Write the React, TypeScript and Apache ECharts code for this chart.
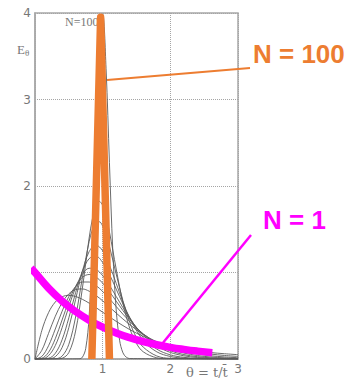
import React, { useEffect, useRef } from "react";
import * as echarts from "echarts";

// Tanks-in-series E(θ) curves
const thetaA = [0, 0.1, 0.2, 0.3, 0.4, 0.5, 0.6, 0.7, 0.8, 0.9, 1.0, 1.1, 1.2, 1.4, 1.6, 1.8, 2.0, 2.2, 2.4, 2.6, 2.8, 3.0];
const eN1 = [1, 0.905, 0.819, 0.741, 0.670, 0.607, 0.549, 0.497, 0.449, 0.407, 0.368, 0.333, 0.301, 0.247, 0.202, 0.165, 0.135, 0.111, 0.091, 0.074, 0.061, 0.050];
const eN2 = [0, 0.327, 0.536, 0.659, 0.719, 0.736, 0.723, 0.690, 0.646, 0.595, 0.541, 0.488, 0.435, 0.340, 0.261, 0.197, 0.147, 0.108, 0.079, 0.057, 0.041, 0.030];
const eN3 = [0, 0.100, 0.296, 0.494, 0.651, 0.753, 0.803, 0.810, 0.784, 0.735, 0.672, 0.602, 0.531, 0.397, 0.284, 0.198, 0.134, 0.089, 0.058, 0.037, 0.024, 0.015];
const eN4 = [0, 0.029, 0.153, 0.347, 0.551, 0.722, 0.836, 0.890, 0.890, 0.850, 0.781, 0.697, 0.607, 0.433, 0.291, 0.186, 0.114, 0.069, 0.040, 0.023, 0.013, 0.007];
const eN5 = [0, 0.008, 0.077, 0.235, 0.451, 0.668, 0.840, 0.944, 0.977, 0.949, 0.877, 0.779, 0.669, 0.456, 0.286, 0.169, 0.095, 0.051, 0.027, 0.013, 0.007, 0.003];
const eN6 = [0, 0.002, 0.038, 0.156, 0.361, 0.605, 0.826, 0.980, 1.049, 1.037, 0.964, 0.852, 0.723, 0.470, 0.276, 0.150, 0.076, 0.037, 0.017, 0.008, 0.003, 0.001];

const thetaB = [0, 0.2, 0.3, 0.4, 0.5, 0.6, 0.7, 0.8, 0.9, 1.0, 1.1, 1.2, 1.3, 1.4, 1.6, 1.8, 2.0, 2.2, 2.4, 3.0];
const eN8 = [0, 0.009, 0.066, 0.222, 0.476, 0.767, 1.014, 1.160, 1.189, 1.116, 0.978, 0.808, 0.635, 0.481, 0.247, 0.114, 0.048, 0.019, 0.007, 0];
const eN10 = [0, 0.002, 0.027, 0.132, 0.363, 0.688, 1.014, 1.241, 1.317, 1.251, 1.085, 0.874, 0.660, 0.473, 0.213, 0.083, 0.029, 0.010, 0.003, 0];

const thetaC = [0, 0.3, 0.4, 0.5, 0.6, 0.7, 0.8, 0.85, 0.9, 0.95, 1.0, 1.05, 1.1, 1.2, 1.3, 1.4, 1.5, 1.6, 1.8, 2.0, 3.0];
const eN15 = [0, 0.003, 0.033, 0.170, 0.486, 0.939, 1.358, 1.499, 1.576, 1.587, 1.537, 1.437, 1.302, 0.982, 0.672, 0.424, 0.248, 0.137, 0.035, 0.008, 0];
const eN20 = [0, 0, 0.008, 0.075, 0.323, 0.817, 1.398, 1.627, 1.773, 1.822, 1.777, 1.652, 1.471, 1.040, 0.644, 0.356, 0.179, 0.083, 0.014, 0.002, 0];

const thetaD = [0, 0.65, 0.7, 0.75, 0.8, 0.85, 0.9, 0.95, 1.0, 1.05, 1.1, 1.15, 1.2, 1.25, 1.3, 1.35, 1.4, 3.0];
const eN100 = [0, 0.002, 0.020, 0.123, 0.490, 1.342, 2.590, 3.690, 3.987, 3.360, 2.270, 1.245, 0.567, 0.217, 0.071, 0.020, 0.005, 0];

// Highlighted overlays
const thetaMagenta = [-0.06, 0, 0.2, 0.4, 0.6, 0.8, 1.0, 1.2, 1.4, 1.6, 1.8, 2.0, 2.2, 2.4, 2.62];
const eMagenta = [1.05, 1.0, 0.819, 0.670, 0.549, 0.449, 0.368, 0.301, 0.247, 0.202, 0.165, 0.135, 0.111, 0.091, 0.073];
const thetaOrange = [0.84, 0.97, 1.1];
const eOrange = [0, 3.95, 0];

const yTicks = ["0", "", "2", "3", "4"];
const xTicks = ["", "1", "2", "3"];

const zip = (xs: number[], ys: number[]) => xs.map((x, i) => [x, ys[i]]);

export default function App() {
  const ref = useRef<HTMLDivElement>(null);
  useEffect(() => {
    if (!ref.current) return;
    const chart = echarts.init(ref.current, undefined, { renderer: "svg" });
    const thin = (xs: number[], ys: number[]) => ({
      type: "line",
      data: zip(xs, ys),
      smooth: 0.35,
      symbol: "none",
      lineStyle: { color: "#5a5a5a", width: 0.9 },
      z: 2,
    });
    const gray = "#a8a8a8";
    chart.setOption({
      animation: false,
      grid: { left: 35, right: 116, top: 13, bottom: 20, show: true, borderColor: gray, borderWidth: 1.5 },
      xAxis: {
        type: "value",
        min: 0,
        max: 3,
        interval: 1,
        axisLine: { show: true, lineStyle: { color: gray, width: 1.5 } },
        axisTick: { show: false },
        axisLabel: {
          color: "#777",
          fontSize: 12,
          margin: 4,
          fontFamily: "DejaVu Sans",
          formatter: (v: number) => xTicks[Math.round(v)] ?? "",
        },
        splitLine: { show: true, lineStyle: { type: "dotted", color: "#a5a5a5", width: 1 } },
      },
      yAxis: {
        type: "value",
        min: 0,
        max: 4,
        interval: 1,
        axisLine: { show: true, lineStyle: { color: gray, width: 1.5 } },
        axisTick: { show: false },
        axisLabel: {
          color: "#777",
          fontSize: 12,
          margin: 4,
          fontFamily: "DejaVu Sans",
          formatter: (v: number) => yTicks[Math.round(v)] ?? "",
        },
        splitLine: { show: true, lineStyle: { type: "dotted", color: "#a5a5a5", width: 1 } },
      },
      series: [
        thin(thetaA, eN1),
        thin(thetaA, eN2),
        thin(thetaA, eN3),
        thin(thetaA, eN4),
        thin(thetaA, eN5),
        thin(thetaA, eN6),
        thin(thetaB, eN8),
        thin(thetaB, eN10),
        thin(thetaC, eN15),
        thin(thetaC, eN20),
        thin(thetaD, eN100),
        {
          type: "line",
          data: zip(thetaMagenta, eMagenta),
          smooth: true,
          symbol: "none",
          clip: false,
          lineStyle: { color: "#ff00ff", width: 7.5, cap: "butt", join: "round" },
          z: 5,
        },
        {
          type: "line",
          data: zip(thetaOrange, eOrange),
          smooth: false,
          symbol: "none",
          clip: false,
          lineStyle: { color: "#ed7d31", width: 7.5, cap: "butt", join: "round" },
          z: 6,
        },
      ],
      graphic: [
        {
          type: "text",
          x: 17,
          y: 41,
          style: {
            text: "{e|E}{s|θ}",
            rich: {
              e: { fontSize: 13, fontFamily: "Liberation Serif", fill: "#777" },
              s: { fontSize: 9, fontFamily: "Liberation Serif", fill: "#777", padding: [7, 0, 0, 0] },
            },
          },
        },
        {
          type: "text",
          x: 65,
          y: 16,
          style: { text: "N=100", fontSize: 12, fontFamily: "Liberation Serif", fill: "#777" },
        },
        {
          type: "text",
          x: 186,
          y: 366,
          style: { text: "θ = t/t\u0304", fontSize: 13, fontFamily: "DejaVu Serif", fill: "#777" },
        },
        {
          type: "line",
          shape: { x1: 107, y1: 80, x2: 250, y2: 68 },
          style: { stroke: "#ed7d31", lineWidth: 2 },
          z: 10,
        },
        {
          type: "line",
          shape: { x1: 162, y1: 344, x2: 251, y2: 235 },
          style: { stroke: "#ff00ff", lineWidth: 2.5 },
          z: 10,
        },
        {
          type: "text",
          x: 253,
          y: 41,
          style: { text: "N = 100", fontSize: 26, fontWeight: "bold", fontFamily: "Liberation Sans", fill: "#ed7d31" },
          z: 10,
        },
        {
          type: "text",
          x: 263,
          y: 207,
          style: { text: "N = 1", fontSize: 26, fontWeight: "bold", fontFamily: "Liberation Sans", fill: "#ff00ff" },
          z: 10,
        },
      ],
    });
    return () => chart.dispose();
  }, []);
  return <div ref={ref} style={{ width: 354, height: 379, position: "absolute", left: 0, top: 0 }} />;
}
